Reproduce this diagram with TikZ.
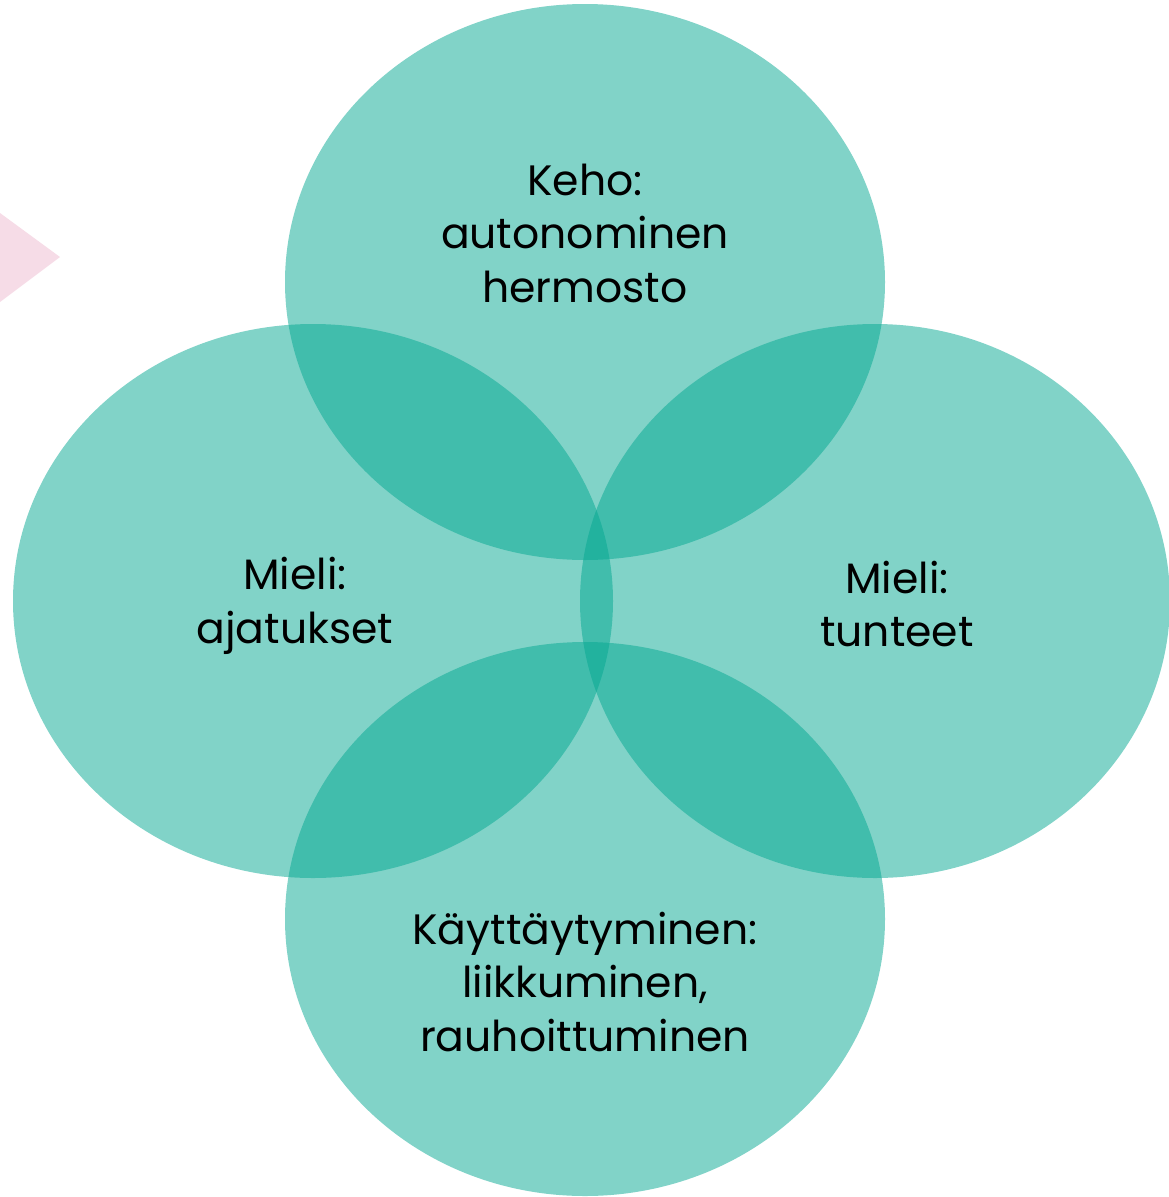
\documentclass[tikz,border=0pt]{standalone}
\usepackage{fontspec}
\setmainfont{Poppins}
\definecolor{teal}{RGB}{3,167,145}
\definecolor{pinkish}{RGB}{246,220,231}
\begin{document}
\begin{tikzpicture}[x=1pt,y=-1pt,
  blob/.style={fill=teal,fill opacity=0.5,draw=none},
  lbl/.style={align=center,font=\fontsize{42.5}{53.5}\selectfont,text=black,inner sep=0pt}]
\path[use as bounding box] (0,0) rectangle (1169,1197);
\fill[pinkish] (0,213) -- (60,257) -- (0,302) -- cycle;
\begin{scope}
\clip (0,0) rectangle (1169,1197);
\fill[blob] (585,282) ellipse [x radius=300,y radius=278];
\fill[blob] (313,601) ellipse [x radius=300,y radius=277];
\fill[blob] (875,601) ellipse [x radius=295,y radius=277];
\fill[blob] (585,919) ellipse [x radius=300,y radius=277];
\end{scope}
\node[lbl] (keho) at (585,233) {Keho:\\autonominen\\hermosto};
\node[lbl] (ajat) at (295,606) {Mieli:\\ajatukset};
\node[lbl] (tunt) at (897,604) {Mieli:\\tunteet};
\node[lbl] (kay) at (585,982) {Käyttäytyminen:\\liikkuminen,\\rauhoittuminen};
\end{tikzpicture}
\end{document}
